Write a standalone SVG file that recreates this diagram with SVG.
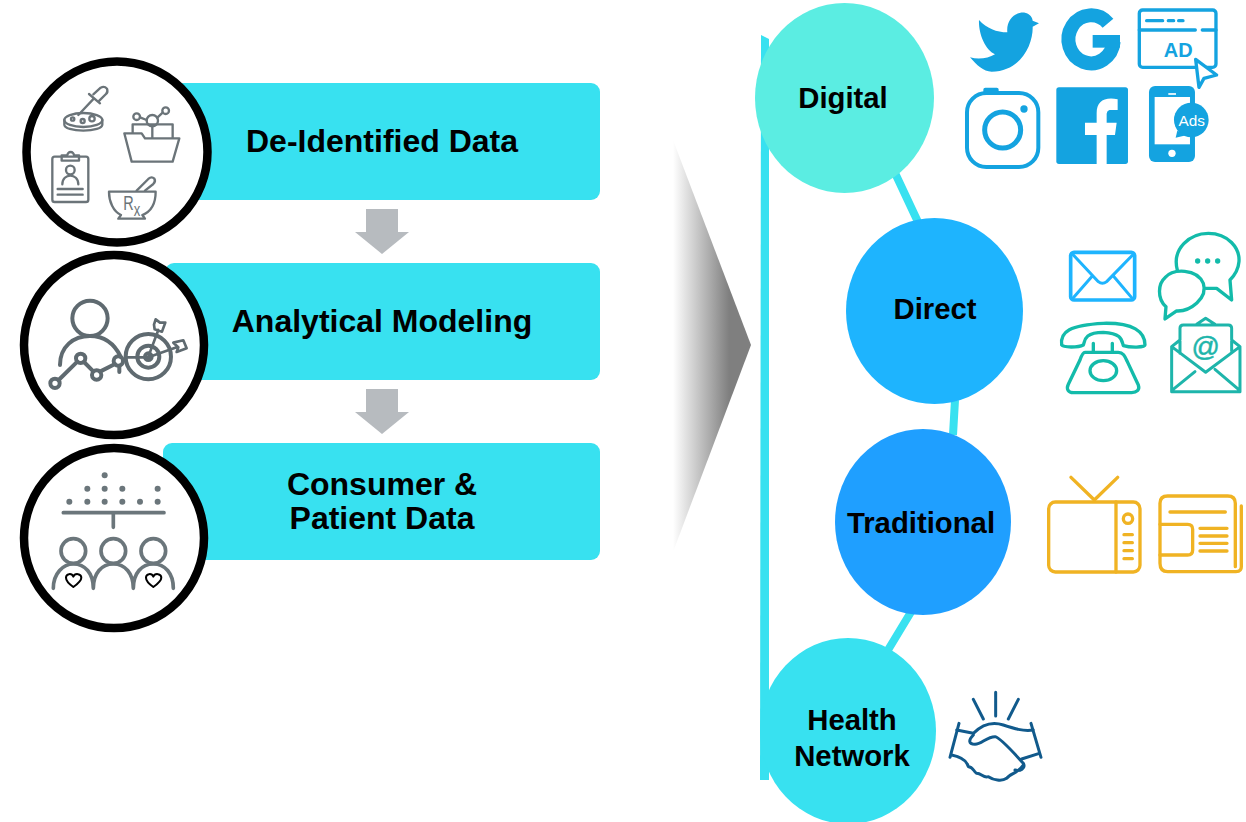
<svg xmlns="http://www.w3.org/2000/svg" width="1246" height="822" viewBox="0 0 1246 822">
<style>
.t{font-family:"Liberation Sans",Arial,sans-serif;font-weight:700;fill:#000;text-anchor:middle}
.b{font-size:32px}
.n{font-size:29.3px}
.bar{fill:#38E1F0}
.ring{fill:#fff;stroke:#000;stroke-width:8.5}
.flow{fill:#B7BBBF}
.conn{stroke:#38E1F0;stroke-width:8;fill:none}
.ic{fill:none;stroke-linecap:round;stroke-linejoin:round}
.g1{stroke:#6B7479;stroke-width:7}
.g2{stroke:#5F6A70;stroke-width:12}
.g3{stroke:#6B767B;stroke-width:11}
.blue{fill:#14A3E0}
.teal{stroke:#13BBAA;stroke-width:10}
.gold{stroke:#F0B323;stroke-width:10}
.navy{stroke:#115A8C;stroke-width:9}
</style>
<defs>
<linearGradient id="fade" x1="0" x2="1" y1="0" y2="0">
<stop offset="0" stop-color="#fff"/><stop offset=".72" stop-color="#7F7F7F"/><stop offset="1" stop-color="#7F7F7F"/>
</linearGradient>
</defs>

<g id="bar-deidentified"><rect class="bar" x="170" y="83" width="430" height="117" rx="9"/><text class="t b" x="382" y="152">De-Identified Data</text></g>
<g id="bar-analytical"><rect class="bar" x="165" y="263" width="435" height="117" rx="9"/><text class="t b" x="382" y="332">Analytical Modeling</text></g>
<g id="bar-consumer"><rect class="bar" x="163" y="443" width="437" height="117" rx="9"/><text class="t b" x="382" y="495">Consumer &amp;</text><text class="t b" x="382" y="529">Patient Data</text></g>

<g id="circle-deidentified">
<circle class="ring" cx="117" cy="152" r="90.5"/>
<g transform="translate(10,70) scale(.3333)" class="ic g1">
<ellipse cx="220" cy="150" rx="57" ry="21"/><path d="M163 150v14c0 10 25 18 57 18s57-8 57-18v-14"/>
<circle cx="188" cy="147" r="5"/><circle cx="218" cy="153" r="6"/><circle cx="246" cy="146" r="8"/>
<path d="M205 135L252 85M237 72L270 100M250 73L272 53Q283 47 291 56Q295 67 288 72L268 92"/>
<path d="M343 190H395L405 205H508L488 275H365Z"/><path d="M368 188V163H488V203M427 170V203"/>
<circle cx="427" cy="152" r="17"/><circle cx="380" cy="140" r="10"/><circle cx="467" cy="122" r="10"/><path d="M390 142L410 150M442 143L458 128"/>
<rect x="127" y="260" width="108" height="136" rx="7"/><path d="M155 272V256H172a10 10 0 0 1 20 0H207V272Z"/>
<circle cx="181" cy="300" r="13"/><path d="M157 343c0-35 48-35 48 0M143 357H218M143 374H218"/>
<path d="M297 365H437C437 400 422 425 397 435L405 446H325L333 435C310 425 297 395 297 365Z"/>
<path d="M380 362L415 327Q425 318 433 326Q438 335 430 342L405 362"/>
</g>
<text x="486" y="420" transform="translate(10,70) scale(.2333,.3333)" font-family="Liberation Sans,sans-serif" font-size="62" fill="#6B7479">R<tspan font-size="56" dy="17">x</tspan></text>
</g>

<g id="circle-analytical">
<circle class="ring" cx="114" cy="345" r="90"/>
<g transform="translate(10,250) scale(.3333)" class="ic g2">
<circle cx="240" cy="205" r="53"/><path d="M150 345C150 290 190 258 240 258C285 258 315 285 332 320"/>
<circle cx="135" cy="400" r="14"/><circle cx="212" cy="325" r="14"/><circle cx="260" cy="375" r="14"/><circle cx="325" cy="333" r="14"/>
<path d="M146 390L202 335M222 336L250 364M270 365L315 342M328 347V366"/>
<circle cx="415" cy="320" r="68"/><circle cx="415" cy="320" r="33"/><circle cx="415" cy="320" r="10"/>
<path stroke-width="8" d="M415 320L445 240M350 322H415L500 292M432 224L437 208L450 218L466 218L456 245L434 238ZM490 278L520 271L530 295L500 306L505 292Z"/>
</g>
</g>

<g id="circle-consumer">
<circle class="ring" cx="114" cy="538" r="90"/>
<g transform="translate(10,440) scale(.3333)">
<g fill="#6B767B"><circle cx="284" cy="106" r="9"/><circle cx="232" cy="146" r="9"/><circle cx="284" cy="146" r="9"/><circle cx="337" cy="146" r="9"/><circle cx="443" cy="146" r="9"/><circle cx="178" cy="185" r="9"/><circle cx="232" cy="185" r="9"/><circle cx="284" cy="185" r="9"/><circle cx="337" cy="185" r="9"/><circle cx="390" cy="185" r="9"/><circle cx="443" cy="185" r="9"/></g>
<g class="ic g3"><path d="M160 218H462M310 218V262"/>
<circle cx="190" cy="333" r="37"/><circle cx="310" cy="333" r="37"/><circle cx="430" cy="333" r="37"/>
<path d="M130 445C130 400 160 372 190 372C225 372 250 400 250 445C250 400 275 372 310 372C345 372 370 400 370 445C370 400 395 372 430 372C465 372 490 400 490 445"/></g>
<path class="ic" stroke="#000" stroke-width="6" d="M190 441C175 430 168 422 168 413C168 401 185 398 190 410C195 398 214 401 214 413C214 422 205 430 190 441ZM430 441C415 430 408 422 408 413C408 401 425 398 430 410C435 398 454 401 454 413C454 422 445 430 430 441Z"/>
</g>
</g>

<g id="flow-arrows">
<path class="flow" d="M366 209H398V232H409L382 254L355 232H366Z"/>
<path class="flow" d="M366 389H398V412H409L382 434L355 412H366Z"/>
</g>
<g id="big-arrow"><path d="M673 140L751 345L673 552Z" fill="url(#fade)"/></g>

<g id="connectors">
<path fill="#38E1F0" d="M761 35L769 39V780H760Z"/>
<path class="conn" d="M895 173L918 222M955 400L953 435M911 612L888 650"/>
</g>

<g id="node-digital"><ellipse cx="844.5" cy="98" rx="89.5" ry="95" fill="#5BEDE2"/><text class="t n" x="843" y="108">Digital</text></g>
<g id="node-direct"><ellipse cx="934.5" cy="311" rx="88.5" ry="93" fill="#1EB4FE"/><text class="t n" x="935" y="319">Direct</text></g>
<g id="node-traditional"><ellipse cx="923" cy="522" rx="88" ry="93" fill="#1F9FFF"/><text class="t n" x="921" y="533">Traditional</text></g>
<g id="node-health"><ellipse cx="848" cy="731" rx="88" ry="93" fill="#38E1F0"/><text class="t n" x="852" y="730">Health</text><text class="t n" x="852" y="766">Network</text></g>

<g id="icons-digital" transform="translate(950,0) scale(.3333)">
<path class="blue" d="M87 60C110 85 140 97 172 97C168 60 195 35 225 38C240 40 248 55 248 62L267 70L248 80C250 130 215 215 125 215C100 215 80 195 60 172C85 180 115 175 135 163C105 150 85 100 87 60Z"/>
<path fill="none" stroke="#14A3E0" stroke-width="42" d="M474 70A68 72 0 1 0 491 125"/><rect class="blue" x="428" y="105" width="82" height="38"/>
<rect x="568" y="30" width="230" height="172" rx="10" fill="#fff" stroke="#14A3E0" stroke-width="10"/>
<path fill="none" stroke="#14A3E0" stroke-width="10" stroke-linecap="round" d="M568 90H736M757 90H798M590 62H638M655 62H671M686 62H699"/>
<text x="685" y="172" font-family="Liberation Sans,sans-serif" font-weight="700" font-size="60" fill="#14A3E0" text-anchor="middle">AD</text>
<path d="M737 178L800 225L762 235L747 262Z" fill="#fff" stroke="#14A3E0" stroke-width="10" stroke-linejoin="round"/>
<rect x="51" y="279" width="214" height="222" rx="58" fill="none" stroke="#14A3E0" stroke-width="12"/><rect class="blue" x="100" y="263" width="46" height="18" rx="6"/>
<circle cx="158" cy="390" r="54" fill="none" stroke="#14A3E0" stroke-width="15"/><circle class="blue" cx="222" cy="327" r="11"/>
<rect class="blue" x="319" y="262" width="215" height="230" rx="8"/>
<path fill="#fff" d="M440 492V405H405V368H440V340C440 305 462 290 503 298V330H482C472 330 470 338 470 345V368H500L495 405H470V492Z"/>
<rect class="blue" x="597" y="258" width="138" height="228" rx="18"/><rect x="614" y="291" width="106" height="142" fill="#fff"/>
<path stroke="#fff" stroke-width="5" d="M655 282H678"/><circle cx="666" cy="460" r="11" fill="#fff"/>
<circle class="blue" cx="724" cy="360" r="52"/><path class="blue" d="M682 392L677 413L712 405Z"/>
<text x="725" y="377" font-family="Liberation Sans,sans-serif" font-size="46" fill="#fff" text-anchor="middle">Ads</text>
</g>

<g id="icons-direct" transform="translate(1040,225) scale(.3333)">
<g class="ic" stroke="#1EB4FE" stroke-width="9"><rect x="92" y="82" width="192" height="143" rx="10" stroke-width="11"/><path d="M100 90L175 170Q187 180 200 170L278 90M100 218L155 155M275 218L222 155"/></g>
<g class="ic teal">
<path d="M412 135C395 70 450 25 505 25C565 25 600 70 597 110C595 135 580 155 570 165L575 225L530 190H497"/>
<path fill="#fff" d="M378 245C350 220 355 175 375 158C400 130 470 130 490 175C505 220 450 260 410 258L375 282Z"/>
<path d="M65 360C60 320 90 300 190 295C280 293 315 320 315 360C315 368 270 368 250 362C245 345 245 325 190 322C130 322 135 350 130 360C115 368 70 368 65 360Z"/>
<path d="M135 382H235C250 382 255 395 262 410L295 480C300 495 290 503 275 503H100C85 503 78 493 85 478L120 405C125 390 130 382 135 382Z"/>
<ellipse cx="190" cy="437" rx="40" ry="30"/><path d="M160 355V382M217 355V382"/>
</g>
<g fill="#13BBAA"><circle cx="473" cy="108" r="8"/><circle cx="503" cy="108" r="8"/><circle cx="533" cy="108" r="8"/></g>
<g class="ic" stroke="#1EB5AB" stroke-width="9">
<path d="M395 365V500H600V365M395 365L420 345M575 345L600 365M420 385V310Q420 300 430 300H565Q575 300 575 310V378M395 365L497 442L600 365M470 298L497 280L525 298M395 497L465 440M600 497L525 433"/>
</g>
<text x="497" y="392" font-family="Liberation Sans,sans-serif" font-size="84" fill="#1EB5AB" stroke="#1EB5AB" stroke-width="1.5" text-anchor="middle">@</text>
</g>

<g id="icons-traditional" transform="translate(1036,470) scale(.3333)" class="ic gold">
<rect x="38" y="96" width="274" height="210" rx="20"/><path d="M240 96V306M105 22L175 90L245 22M264 194H289M264 218H289M264 242H289M264 266H289"/><circle cx="276" cy="146" r="14"/>
<path d="M598 290V100Q598 78 575 78H395Q372 78 372 100V280Q372 305 395 305H600Q618 305 616 285V108"/>
<path d="M402 126H568M372 163H455Q470 163 470 178V240Q470 255 455 255H372M492 175H573M492 198H573M492 220H573M492 243H573"/>
</g>

<g id="icons-health" transform="translate(940,685) scale(.3333)" class="ic navy">
<path d="M100 43L130 102M167 22V93M235 43L205 102M57 115L30 217M273 115L303 217M50 135L100 145C130 115 160 110 190 120C220 130 250 140 280 135"/>
<path d="M100 150C85 165 85 178 105 178C125 178 140 155 165 155C185 160 240 225 250 235C258 250 240 260 225 255M35 210C60 215 80 225 85 245C100 245 100 260 110 265C125 265 130 280 145 275C160 285 185 290 200 280C210 265 235 265 250 240M245 222L298 205"/>
</g>
</svg>
